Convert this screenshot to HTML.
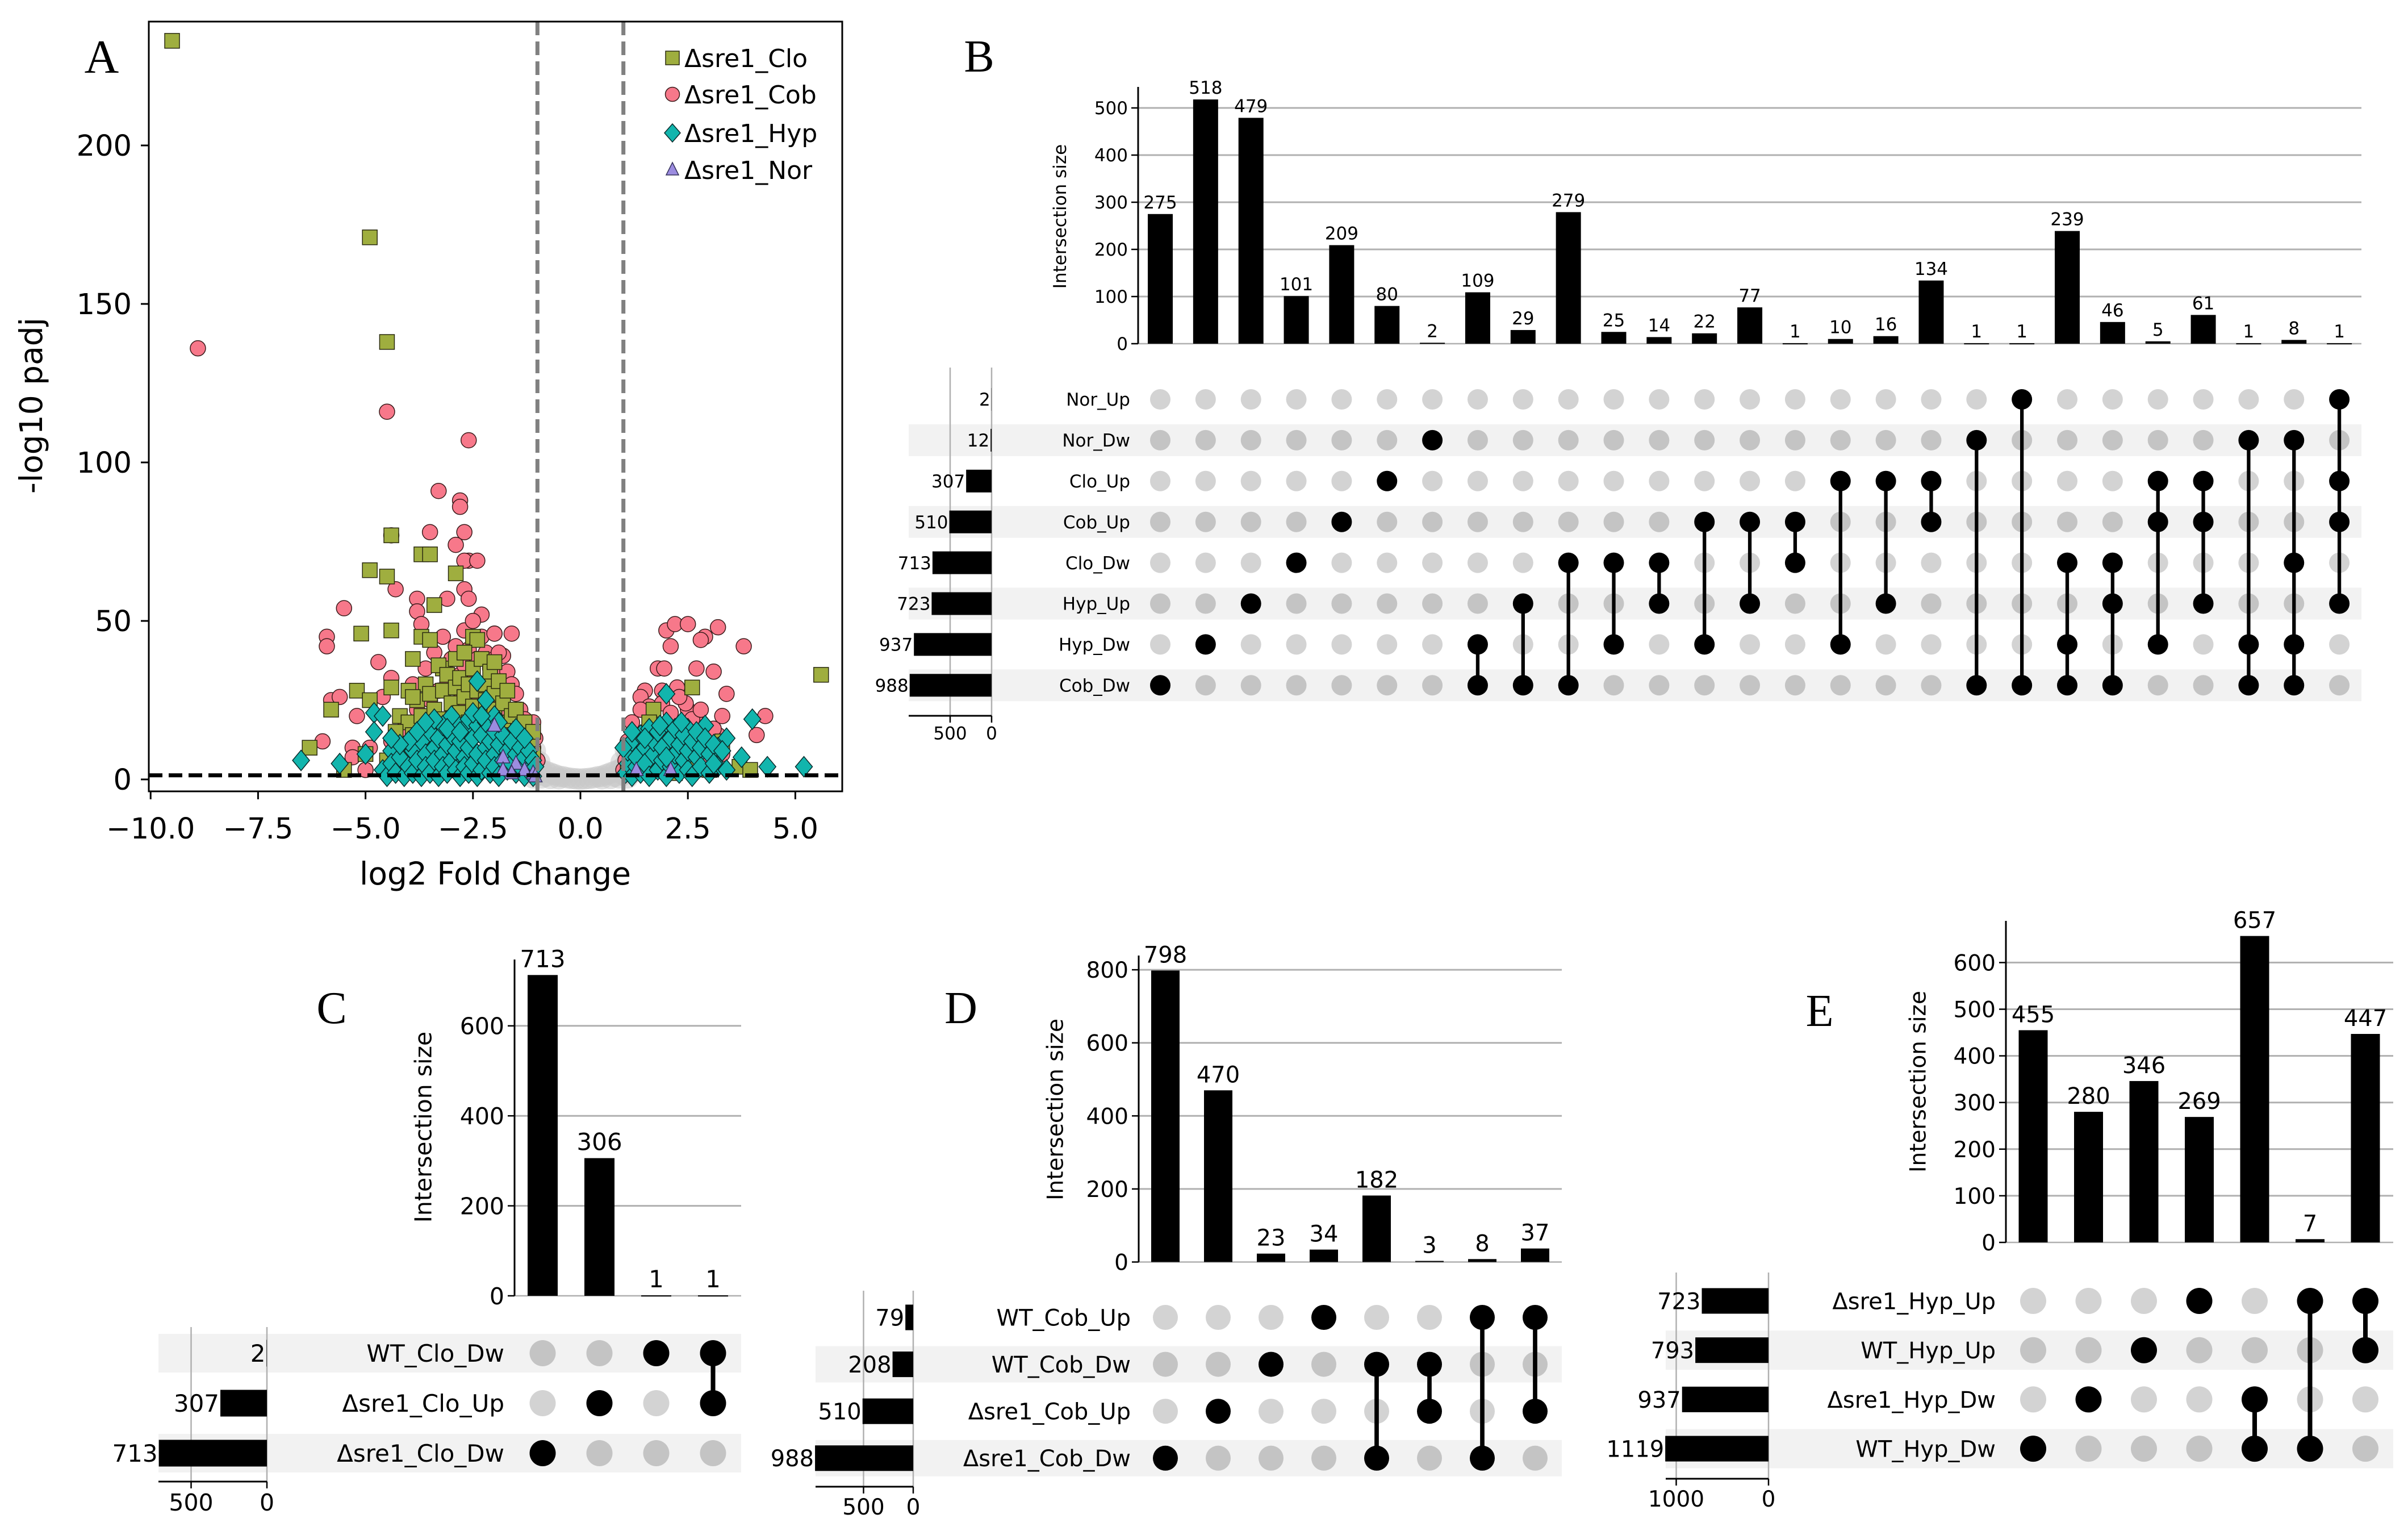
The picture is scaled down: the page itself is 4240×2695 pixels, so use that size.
<!DOCTYPE html>
<html><head><meta charset="utf-8"><style>
html,body{margin:0;padding:0;background:#fff}
svg{display:block}
text{font-family:"DejaVu Sans","Liberation Sans",sans-serif}
.serif{font-family:"Liberation Serif","DejaVu Serif",serif}
</style></head><body>
<svg id="fig" xmlns="http://www.w3.org/2000/svg" width="4240" height="2695" viewBox="0 0 4240 2695">
<defs><clipPath id="clipA"><rect x="262" y="38" width="1221" height="1355"/></clipPath></defs>
<g id="panelA"></g>
<g id="panelB"></g>
<g id="panelC"></g>
<g id="panelD"></g>
<g id="panelE"></g>
</svg>
<script>
// ---------- Panel A data ----------
const xTicksA = [-10, -7.5, -5, -2.5, 0, 2.5, 5];
const xTickLabelsA = ["\u221210.0","\u22127.5","\u22125.0","\u22122.5","0.0","2.5","5.0"];
const yTicksA = [0, 50, 100, 150, 200];
const fcThreshold = [-1, 1];
const padjThreshold = 1.3;
const nsPoints = [[-1.2,2],[-1.1,3],[-1,4],[-0.9,3],[-0.8,2.5],[-0.7,2],[-0.6,1.5],[-0.5,1],[-0.4,0.8],[-0.3,0.5],[-0.2,0.3],[-0.1,0.2],[0,0.1],[0.1,0.2],[0.2,0.3],[0.3,0.5],[0.4,0.8],[0.5,1],[0.6,1.5],[0.7,2],[0.8,2.5],[0.9,3],[1,4],[1.1,3],[1.2,2],[-1.1,0.5],[-0.9,0.5],[-0.7,0.3],[-0.5,0.2],[0.5,0.2],[0.7,0.3],[0.9,0.5],[1.1,0.5],[-1,1.5],[1,1.5],[-0.8,1],[0.8,1],[-1.2,6],[1.2,6],[-1.1,7],[1.1,7],[-1.05,9],[1.05,9],[-0.95,5.5],[0.95,5.5]];
const cobPoints = [[-8.9,136],[-4.5,116],[-2.6,107],[-3.3,91],[-2.8,88],[-2.8,86],[-4.4,77],[-3.5,78],[-2.7,78],[-2.9,74],[-2.6,69],[-2.7,69],[-2.4,69],[-4.3,60],[-2.7,60],[-2.6,57],[-3.1,57],[-3.8,57],[-3.8,53],[-5.5,54],[-5.9,45],[-5.9,42],[-3.7,49],[-2.3,52],[-2,46],[-4.7,37],[-4.4,32],[-5.8,25],[-5.6,26],[-6,12],[-5.3,10],[-5.3,7],[-5,3],
[2,47],[2.2,49],[2.5,49],[3.2,48],[2.9,45],[2.8,44],[3.8,42],[2.1,42],[2.7,35],[1.8,35],[1.95,35],[3.1,34],[2.25,29],[1.9,28],[1.5,28],[2.5,22],[3.4,27],[2.45,24],[4.3,20],[4.1,14],[2.7,18],[1.4,26],[1.6,23],[3.3,8],[3,5],[3.2,14],
[-3.8,22],[-3.6,35],[-3.5,25],[-3.4,40],[-3.3,28],[-3.2,45],[-3.1,30],[-3,38],[-3,20],[-2.9,42],[-2.8,33],[-2.8,25],[-2.7,47],[-2.7,36],[-2.6,28],[-2.6,41],[-2.5,50],[-2.5,32],[-2.4,38],[-2.4,26],[-2.3,45],[-2.3,30],[-2.2,40],[-2.2,22],[-2.1,35],[-2.1,28],[-2,38],[-2,25],[-1.9,33],[-1.9,20],[-1.8,39],[-1.8,28],[-1.7,34],[-1.7,22],[-1.6,30],[-1.6,18],[-1.5,27],[-1.5,15],[-1.4,22],[-1.3,19],[-1.3,12],[-1.2,16],[-1.1,18],[-1.1,10],[-1.05,13],[-1,6],[-3.9,30],[-4.1,16],[-4.4,12],[-4.6,26],[-4.2,4],[-3.7,8],[-5.2,20],[-4.9,10],[-1.6,46],[-2,46],[-1.9,40],
[1.05,6],[1.1,12],[1.2,18],[1.3,8],[1.4,22],[1.5,15],[1.6,4],[1.7,19],[1.8,11],[1.9,24],[2,16],[2.1,21],[2.2,9],[2.3,26],[2.4,13],[2.6,19],[2.8,22],[2.9,12],[3.1,16],[3.3,20],[1.2,4],[1,3],[2,2]];
const cloPoints = [[-9.5,233],[-4.9,171],[-4.5,138],[-4.4,77],[-3.7,71],[-3.5,71],[-4.9,66],[-4.5,64],[-2.9,65],[-3.4,55],[-5.1,46],[-4.4,47],[-3.7,45],[-3.5,44],[-2.5,45],[-2.4,44],[-3.9,38],[-3.2,35],[-5.2,28],[-4.4,29],[-4,28],[-5.8,22],[-6.3,10],[-5.5,3],[-4.9,25],[-4.3,8],[5.6,33],[2.6,29],[1.7,22],[3.3,12],[3.7,4],[3.95,3],[-5,8],
[-4.2,20],[-4,18],[-3.9,14],[-3.8,25],[-3.7,20],[-3.6,30],[-3.5,16],[-3.5,27],[-3.4,22],[-3.3,36],[-3.3,12],[-3.2,28],[-3.2,19],[-3.1,33],[-3,24],[-3,15],[-2.9,38],[-2.9,29],[-2.8,21],[-2.8,32],[-2.7,26],[-2.7,40],[-2.6,18],[-2.6,30],[-2.5,35],[-2.5,23],[-2.4,28],[-2.4,14],[-2.3,38],[-2.3,20],[-2.2,30],[-2.2,25],[-2.1,34],[-2.1,16],[-2,27],[-2,22],[-1.9,31],[-1.9,12],[-1.8,24],[-1.8,18],[-1.7,28],[-1.6,20],[-1.6,14],[-1.5,22],[-1.4,16],[-1.3,18],[-1.2,12],[-1.1,15],[-1.1,8],[-3.6,10],[-4,8],[-2.8,10],[-3.9,26],[-4.3,15],[-4.5,6],[-2,37],[-1.5,10],[-1.2,6],
[1.1,3],[1.3,5],[1.5,8],[1.8,4],[2.2,2],[2.6,6],[3,3],[1.6,18],[2.4,10]];
const hypPoints = [[-6.5,6],[-5.6,5],[-4.8,21],[-4.6,20],[-4.8,15],[-4.4,9],[-5,8],[-2.4,31],[-2.2,25],[2,27],[2.5,16],[2.9,17],[3.4,13],[3.2,10],[4,19],[3.75,7],[4.35,4],[5.2,4],[3.2,4],
[-4.6,3],[-4.5,1],[-4.4,5],[-4.3,2],[-4.2,7],[-4.1,1],[-4,4],[-3.9,9],[-3.9,2],[-3.8,6],[-3.7,12],[-3.7,1],[-3.6,8],[-3.6,4],[-3.5,15],[-3.5,2],[-3.4,10],[-3.4,6],[-3.3,13],[-3.3,1],[-3.2,17],[-3.2,8],[-3.2,4],[-3.1,11],[-3.1,2],[-3,14],[-3,6],[-2.9,18],[-2.9,9],[-2.9,3],[-2.8,12],[-2.8,1],[-2.7,16],[-2.7,7],[-2.7,4],[-2.6,19],[-2.6,10],[-2.6,2],[-2.5,13],[-2.5,5],[-2.4,17],[-2.4,8],[-2.4,1],[-2.3,14],[-2.3,3],[-2.2,18],[-2.2,10],[-2.2,6],[-2.1,12],[-2.1,2],[-2,15],[-2,8],[-2,4],[-1.9,11],[-1.9,1],[-1.8,14],[-1.8,6],[-1.7,9],[-1.7,3],[-1.6,12],[-1.6,5],[-1.5,8],[-1.5,2],[-1.4,10],[-1.4,4],[-1.3,7],[-1.3,1],[-1.2,9],[-1.2,3],[-1.1,6],[-1.1,1],[-1.05,4],[-3.8,15],[-4,12],[-3.4,19],[-3,20],[-2.5,21],[-2,20],[-1.9,18],[-1.5,16],[-1.3,13],[-4.2,11],[-4.4,13],[-3.6,18],[-3.1,16],[-2.8,15],[-2.3,20],
[1.05,2],[1.1,5],[1.1,9],[1.2,1],[1.2,12],[1.3,4],[1.3,7],[1.4,14],[1.4,2],[1.5,10],[1.5,5],[1.6,16],[1.6,1],[1.7,8],[1.7,12],[1.8,3],[1.8,15],[1.9,6],[1.9,10],[2,18],[2,1],[2.1,13],[2.1,4],[2.2,8],[2.2,16],[2.3,2],[2.3,11],[2.4,6],[2.4,14],[2.5,3],[2.5,9],[2.6,12],[2.6,1],[2.7,7],[2.7,15],[2.8,4],[2.8,10],[2.9,13],[3,2],[3,8],[3.1,11],[3.1,5],[3.3,9],[3.4,3],[2,7],[1.5,13],[1.2,15],[1,10],[2.35,18],[1.85,17]];
const norPoints = [[-2,17],[-1.8,7],[-1.5,5],[-1.3,3],[-1.1,2],[-1.8,3],[-1.6,2],[1.3,3],[2.1,3],[-1.05,1]];
const legendLabels = ["\u0394sre1_Clo","\u0394sre1_Cob","\u0394sre1_Hyp","\u0394sre1_Nor"];

// ---------- Panel B data ----------
const bSets = ["Nor_Up","Nor_Dw","Clo_Up","Cob_Up","Clo_Dw","Hyp_Up","Hyp_Dw","Cob_Dw"];
const bSetSizes = [2,12,307,510,713,723,937,988];
const bCounts = [275,518,479,101,209,80,2,109,29,279,25,14,22,77,1,10,16,134,1,1,239,46,5,61,1,8,1];
const bMembers = [[7],[6],[5],[4],[3],[2],[1],[6,7],[5,7],[4,7],[4,6],[4,5],[3,6],[3,5],[3,4],[2,6],[2,5],[2,3],[1,7],[0,7],[4,6,7],[4,5,7],[2,3,6],[2,3,5],[1,6,7],[1,4,6,7],[0,2,3,5]];
const bYTicks = [0,100,200,300,400,500];
const bSetTicks = [500,0];

// ---------- Panel C data ----------
const cSets = ["WT_Clo_Dw","\u0394sre1_Clo_Up","\u0394sre1_Clo_Dw"];
const cSetSizes = [2,307,713];
const cCounts = [713,306,1,1];
const cMembers = [[2],[1],[0],[0,1]];
const cYTicks = [0,200,400,600];
const cSetTicks = [500,0];

// ---------- Panel D data ----------
const dSets = ["WT_Cob_Up","WT_Cob_Dw","\u0394sre1_Cob_Up","\u0394sre1_Cob_Dw"];
const dSetSizes = [79,208,510,988];
const dCounts = [798,470,23,34,182,3,8,37];
const dMembers = [[3],[2],[1],[0],[1,3],[1,2],[0,3],[0,2]];
const dYTicks = [0,200,400,600,800];
const dSetTicks = [500,0];

// ---------- Panel E data ----------
const eSets = ["\u0394sre1_Hyp_Up","WT_Hyp_Up","\u0394sre1_Hyp_Dw","WT_Hyp_Dw"];
const eSetSizes = [723,793,937,1119];
const eCounts = [455,280,346,269,657,7,447];
const eMembers = [[3],[2],[1],[0],[2,3],[0,3],[0,1]];
const eYTicks = [0,100,200,300,400,500,600];
const eSetTicks = [1000,0];

const NS = "http://www.w3.org/2000/svg";
function el(parent, tag, attrs, txt) {
  const e = document.createElementNS(NS, tag);
  for (const k in attrs) e.setAttribute(k, attrs[k]);
  if (txt !== undefined) e.textContent = txt;
  parent.appendChild(e);
  return e;
}

// ================= Panel A =================
(function(){
  const g = document.getElementById("panelA");
  const L=262, R=1483, T=38, B=1393;
  const xS = v => 1022 + v*75.68;
  const yS = v => 1372 - v*5.58;
  const letter = el(g,"text",{x:179,y:128,"font-size":84,"text-anchor":"middle",class:"serif"},"A");
  
  
  const pts = el(g,"g",{"clip-path":"url(#clipA)"});
  
  
  nsPoints.forEach(p=>{
    const c = el(pts,"circle",{cx:xS(p[0]),cy:yS(p[1]),r:19,fill:"#c8c8c8","fill-opacity":0.55});
    
    
  });
  cobPoints.forEach(p=>{
    const c = el(pts,"circle",{cx:xS(p[0]),cy:yS(p[1]),r:13.5,fill:"#f7788a",stroke:"#3a1a1a","stroke-width":1.5});
    
    
  });
  cloPoints.forEach(p=>{
    const c = el(pts,"rect",{x:xS(p[0])-13,y:yS(p[1])-13,width:26,height:26,fill:"#9fae3f",stroke:"#2a2a10","stroke-width":1.5});
    
    
  });
  hypPoints.forEach(p=>{
    const x=xS(p[0]), y=yS(p[1]);
    const c = el(pts,"polygon",{points:`${x},${y-18} ${x+15},${y} ${x},${y+18} ${x-15},${y}`,fill:"#12b5ad",stroke:"#0b2a2a","stroke-width":1.5});
    
    
  });
  norPoints.forEach(p=>{
    const x=xS(p[0]), y=yS(p[1]);
    const c = el(pts,"polygon",{points:`${x},${y-14} ${x+12},${y+10} ${x-12},${y+10}`,fill:"#9c8ce0",stroke:"#33305a","stroke-width":1.5});
    
    
  });
  fcThreshold.forEach(v=>{
    const l = el(g,"line",{x1:xS(v),x2:xS(v),y1:T,y2:B,stroke:"#808080","stroke-width":7,"stroke-dasharray":"24,11"});
    
    
  });
  const hl = el(g,"line",{x1:L,x2:R,y1:yS(padjThreshold),y2:yS(padjThreshold),stroke:"#000","stroke-width":7,"stroke-dasharray":"24,11"});
  
  
  const frame = el(g,"rect",{x:L,y:T,width:R-L,height:B-T,fill:"none",stroke:"#000","stroke-width":3});
  
  
  xTicksA.forEach((v,i)=>{
    el(g,"line",{x1:xS(v),x2:xS(v),y1:B,y2:B+14,stroke:"#000","stroke-width":3});
    const t = el(g,"text",{x:xS(v),y:B+83,"font-size":51,"text-anchor":"middle"},xTickLabelsA[i]);
    
    
  });
  yTicksA.forEach(v=>{
    el(g,"line",{x1:L,x2:L-14,y1:yS(v),y2:yS(v),stroke:"#000","stroke-width":3});
    const t = el(g,"text",{x:L-30,y:yS(v)+18,"font-size":51,"text-anchor":"end"},String(v));
    
    
  });
  const xt = el(g,"text",{x:872,y:1557,"font-size":55,"text-anchor":"middle"},"log2 Fold Change");
  
  
  const yt = el(g,"text",{x:0,y:0,"font-size":55,"text-anchor":"middle",transform:"translate(74,714) rotate(-90)"},"-log10 padj");
  
  
  const lg = el(g,"g",{});
  
  
  const ly=[102,166,234,299];
  legendLabels.forEach((lab,i)=>{
    const x=1184, y=ly[i];
    let m;
    if(i===0) m=el(lg,"rect",{x:x-12,y:y-12,width:24,height:24,fill:"#9fae3f",stroke:"#2a2a10","stroke-width":1.5});
    if(i===1) m=el(lg,"circle",{cx:x,cy:y,r:12.5,fill:"#f7788a",stroke:"#3a1a1a","stroke-width":1.5});
    if(i===2) m=el(lg,"polygon",{points:`${x},${y-16} ${x+14},${y} ${x},${y+16} ${x-14},${y}`,fill:"#12b5ad",stroke:"#0b2a2a","stroke-width":1.5});
    if(i===3) m=el(lg,"polygon",{points:`${x},${y-13} ${x+11},${y+9} ${x-11},${y+9}`,fill:"#9c8ce0",stroke:"#33305a","stroke-width":1.5});
    
    
    const t = el(lg,"text",{x:1205,y:y+16,"font-size":44},lab);
    
    
  });
})();

// ================= UpSet panels =================
function drawUpset(g, cfg, sets, setSizes, counts, members, yTicks, setTicks) {
  const yS = v => cfg.base - v*cfg.unit;
  const colX = i => cfg.col0 + i*cfg.colStep;
  const rowY = r => cfg.row0 + r*cfg.rowStep;
  const sX = v => cfg.setZero - v*cfg.setUnit;
  const fs = cfg.fs;
  const lt = el(g,"text",{x:cfg.letter[0],y:cfg.letter[1]+26,"font-size":80,"text-anchor":"middle",class:"serif"},cfg.letterText);
  
  
  sets.forEach((s,r)=>{
    if(r%2===cfg.shade){
      const b = el(g,"rect",{x:cfg.bandX0,y:rowY(r)-cfg.bandH/2,width:cfg.bandX1-cfg.bandX0,height:cfg.bandH,fill:"#f2f2f2"});
      
      
    }
  });
  yTicks.forEach(v=>{
    if(v>0) el(g,"line",{x1:cfg.axisX,x2:cfg.gridEnd,y1:yS(v),y2:yS(v),stroke:"#b0b0b0","stroke-width":3});
    el(g,"line",{x1:cfg.axisX-12,x2:cfg.axisX,y1:yS(v),y2:yS(v),stroke:"#000","stroke-width":2.5});
    const t = el(g,"text",{x:cfg.axisX-18,y:yS(v)+fs*0.36,"font-size":fs,"text-anchor":"end"},String(v));
    
    
  });
  el(g,"line",{x1:cfg.axisX,x2:cfg.gridEnd,y1:cfg.base,y2:cfg.base,stroke:"#b0b0b0","stroke-width":2.5});
  const ax = el(g,"line",{x1:cfg.axisX,x2:cfg.axisX,y1:cfg.axisTop,y2:cfg.base,stroke:"#000","stroke-width":3});
  
  
  const yt = el(g,"text",{x:0,y:0,"font-size":fs,"text-anchor":"middle",transform:`translate(${cfg.yTitle[0]+fs*0.35},${cfg.yTitle[1]}) rotate(-90)`},"Intersection size");
  
  
  counts.forEach((c,i)=>{
    const b = el(g,"rect",{x:colX(i)-cfg.barW/2,y:yS(c),width:cfg.barW,height:Math.max(cfg.base-yS(c),2),fill:"#000"});
    
    
    const t = el(g,"text",{x:colX(i),y:yS(c)-cfg.labelGap,"font-size":cfg.vfs,"text-anchor":"middle"},String(c));
    
    
  });
  setTicks.forEach(v=>{
    el(g,"line",{x1:sX(v),x2:sX(v),y1:cfg.setTop,y2:cfg.setBottom,stroke:"#b0b0b0","stroke-width":2.5});
    el(g,"line",{x1:sX(v),x2:sX(v),y1:cfg.setBottom,y2:cfg.setBottom+12,stroke:"#000","stroke-width":2.5});
    const t = el(g,"text",{x:sX(v),y:cfg.setBottom+12+fs*0.95,"font-size":fs,"text-anchor":"middle"},String(v));
    
    
  });
  const sb = el(g,"line",{x1:cfg.bandX0,x2:cfg.setZero,y1:cfg.setBottom,y2:cfg.setBottom,stroke:"#000","stroke-width":3});
  
  
  sets.forEach((s,r)=>{
    const b = el(g,"rect",{x:sX(setSizes[r]),y:rowY(r)-cfg.setBarH/2,width:cfg.setZero-sX(setSizes[r]),height:cfg.setBarH,fill:"#000"});
    
    
    const t = el(g,"text",{x:sX(setSizes[r])-2,y:rowY(r)+cfg.vfs*0.36,"font-size":cfg.vfs,"text-anchor":"end"},String(setSizes[r]));
    
    
    const lab = el(g,"text",{x:cfg.labelRight,y:rowY(r)+cfg.lfs*0.36,"font-size":cfg.lfs,"text-anchor":"end"},s);
    
    
  });
  counts.forEach((c,i)=>{
    const m = members[i];
    sets.forEach((s,r)=>{
      const on = m.indexOf(r)>=0;
      const d = el(g,"circle",{cx:colX(i),cy:rowY(r),r:cfg.dotR,fill:on?"#000":(r%2===cfg.shade?"#c4c4c4":"#d3d3d3")});
      
      
    });
    if(m.length>1){
      const lo=Math.min(...m), hi=Math.max(...m);
      const ln = el(g,"line",{x1:colX(i),x2:colX(i),y1:rowY(lo),y2:rowY(hi),stroke:"#000","stroke-width":cfg.dotR*0.35});
      
      
    }
  });
}

drawUpset(document.getElementById("panelB"),{
  letterText:"B",letter:[1724,100],axisX:2004,base:605,unit:0.83,axisTop:153,gridEnd:4158,
  col0:2043,colStep:79.85,barW:44,row0:703,rowStep:71.9,bandH:56,bandX0:1600,bandX1:4158,shade:1,
  labelRight:1990,setZero:1746,setUnit:0.146,setBarH:40,setTop:647,setBottom:1260,
  dotR:18,fs:31,vfs:31,lfs:31,labelGap:10,yTitle:[1866,381]
}, bSets,bSetSizes,bCounts,bMembers,bYTicks,bSetTicks);

drawUpset(document.getElementById("panelC"),{
  letterText:"C",letter:[584,1775],axisX:906,base:2281,unit:0.792,axisTop:1689,gridEnd:1305,
  col0:955.5,colStep:100,barW:53,row0:2382,rowStep:88,bandH:68,bandX0:279,bandX1:1305,shade:0,
  labelRight:888,setZero:470,setUnit:0.267,setBarH:47,setTop:2336,setBottom:2608,
  dotR:23,fs:41,vfs:42,lfs:42,labelGap:14,yTitle:[745,1984]
}, cSets,cSetSizes,cCounts,cMembers,cYTicks,cSetTicks);

drawUpset(document.getElementById("panelD"),{
  letterText:"D",letter:[1692,1775],axisX:2005,base:2221.5,unit:0.643,axisTop:1682,gridEnd:2750,
  col0:2052,colStep:93,barW:50,row0:2319,rowStep:82.6,bandH:64,bandX0:1436,bandX1:2750,shade:1,
  labelRight:1991,setZero:1608,setUnit:0.175,setBarH:45,setTop:2272,setBottom:2617,
  dotR:22,fs:39,vfs:40,lfs:40,labelGap:14,yTitle:[1858,1953]
}, dSets,dSetSizes,dCounts,dMembers,dYTicks,dSetTicks);

drawUpset(document.getElementById("panelE"),{
  letterText:"E",letter:[3204,1780],axisX:3532,base:2187,unit:0.821,axisTop:1621,gridEnd:4214,
  col0:3580,colStep:97.5,barW:51,row0:2290,rowStep:86.7,bandH:69,bandX0:2933,bandX1:4214,shade:1,
  labelRight:3514,setZero:3114,setUnit:0.1625,setBarH:45,setTop:2240,setBottom:2603,
  dotR:23,fs:39,vfs:40,lfs:40,labelGap:14,yTitle:[3377,1904]
}, eSets,eSetSizes,eCounts,eMembers,eYTicks,eSetTicks);
</script>
</body></html>
